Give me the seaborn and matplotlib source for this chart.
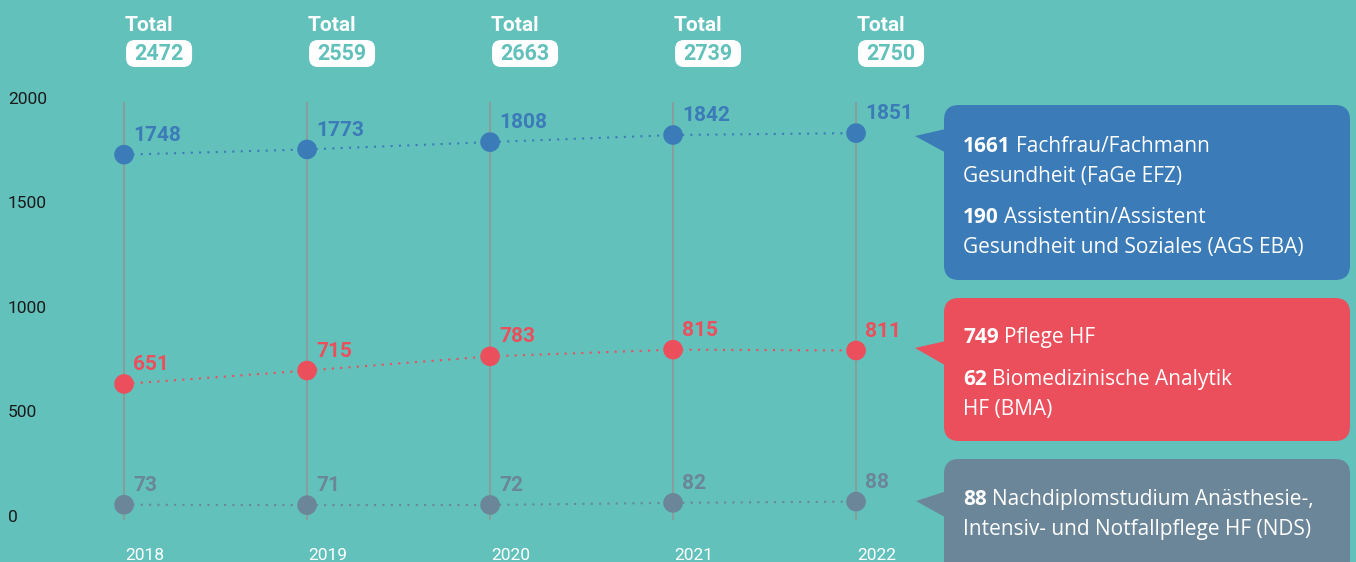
"""
Students per programme 2018-2022, timeline with callout boxes.
"""

import numpy as np
import pandas as pd
import matplotlib.pyplot as plt
import seaborn as sns
from matplotlib.patches import FancyBboxPatch, Polygon

sns.set_theme(style="white")
plt.rcParams["font.family"] = ["Roboto", "DejaVu Sans"]

# ---------------------------------------------------------------------------
# DATA
# ---------------------------------------------------------------------------
years = [2018, 2019, 2020, 2021, 2022]
totals = [2472, 2559, 2663, 2739, 2750]
fage_ags = [1748, 1773, 1808, 1842, 1851]
pflege_bma = [651, 715, 783, 815, 811]
nds = [73, 71, 72, 82, 88]
series_names = ["FaGe/AGS", "HF", "NDS"]
y_ticks = [0, 500, 1000, 1500, 2000]

box_texts = [
    [("1661", "Fachfrau/Fachmann"), ("", "Gesundheit (FaGe EFZ)"),
     ("190", "Assistentin/Assistent"), ("", "Gesundheit und Soziales (AGS EBA)")],
    [("749", "Pflege HF"), ("62", "Biomedizinische Analytik"), ("", "HF (BMA)")],
    [("88", "Nachdiplomstudium Anästhesie-,"),
     ("", "Intensiv- und Notfallpflege HF (NDS)")],
]

COLORS = {
    "bg": "#63c1bc",
    "FaGe/AGS": "#3b7bb8",
    "HF": "#eb4f5c",
    "NDS": "#6b8699",
    "grid": "#8e9a9a",
}
BOX_FONT = ["Open Sans", "DejaVu Sans"]
BOX_SIZE = 15

df = pd.DataFrame({
    "year": years * 3,
    "value": fage_ags + pflege_bma + nds,
    "series": np.repeat(series_names, len(years)),
})

W, H = 1356, 562
fig = plt.figure(figsize=(W / 100, H / 100), dpi=100)
fig.patch.set_facecolor(COLORS["bg"])

ax = fig.add_axes([0, 0, 1, 1])
ax.set_facecolor(COLORS["bg"])
ax.set_xlim(2017.322, 2024.732)
ax.set_ylim(-201, 2488)
ax.set_axis_off()

palette = {s: COLORS[s] for s in series_names}

# vertical year lines
ax.vlines(years, 0, 2000, color=COLORS["grid"], lw=1.3, zorder=1)

# dotted connectors + markers
for s in series_names:
    sub = df[df["series"] == s]
    ax.plot(sub["year"], sub["value"], color=COLORS[s], lw=1.5,
            linestyle=(0, (1, 3)), zorder=2)
sns.scatterplot(data=df, x="year", y="value", hue="series", palette=palette,
                s=200, linewidth=0, legend=False, ax=ax, zorder=3)

# value labels
for _, r in df.iterrows():
    ax.annotate(f"{r['value']}", xy=(r["year"], r["value"]),
                xytext=(6.5, 10), textcoords="offset points",
                ha="left", va="baseline", fontsize=15, fontweight="bold",
                color=COLORS[r["series"]], zorder=4)

# y labels
for t in y_ticks:
    ax.annotate(f"{t}", xy=(8, t), xycoords=("figure pixels", "data"),
                xytext=(0, 2), textcoords="offset points",
                ha="left", va="center", fontsize=12.5, color="#1a1a1a")

# year labels
for y in years:
    ax.annotate(f"{y}", xy=(y, 2), xycoords=("data", "figure pixels"),
                xytext=(1, 0), textcoords="offset points",
                ha="left", va="baseline", fontsize=12.5, color="white")

# overlay in image pixels (y downwards)
ov = fig.add_axes([0, 0, 1, 1])
ov.set_xlim(0, W)
ov.set_ylim(H, 0)
ov.set_axis_off()
ov.patch.set_alpha(0)

# totals
for y, tot in zip(years, totals):
    px = ax.transData.transform((y, 0))[0]
    ov.text(px + 1, 31, "Total", ha="left", va="baseline", fontsize=15,
            fontweight="bold", color="white")
    ov.add_patch(FancyBboxPatch((px + 2, 40), 66, 27,
                                boxstyle="round,pad=0,rounding_size=9",
                                fc="white", ec="none"))
    ov.text(px + 35, 54, f"{tot}", ha="center", va="center", fontsize=15.5,
            fontweight="bold", color=COLORS["bg"])

# callout boxes
boxes = [
    ("FaGe/AGS", 105, 280, (915, 136), (128, 155), [152, 182, 223, 253]),
    ("HF", 298, 441, (915, 348), (340, 368), [343, 385, 415]),
    ("NDS", 459, 575, (916, 501), (490, 520), [505, 535]),
]
for (s, top, bot, tip, base, baselines), lines in zip(boxes, box_texts):
    c = COLORS[s]
    ov.add_patch(FancyBboxPatch((944, top), 406, bot - top,
                                boxstyle="round,pad=0,rounding_size=15",
                                fc=c, ec="none"))
    ov.add_patch(Polygon([tip, (950, base[0]), (950, base[1])],
                         closed=True, fc=c, ec="none"))
    for (bold, rest), bl in zip(lines, baselines):
        if bold:
            t = ov.text(963, bl, bold, ha="left", va="baseline",
                        fontsize=BOX_SIZE, fontweight="bold", color="white",
                        family=BOX_FONT)
            ov.annotate(rest, xy=(1, 0), xycoords=t, xytext=(3.5, 0),
                        textcoords="offset points", ha="left", va="bottom",
                        fontsize=BOX_SIZE, color="white", family=BOX_FONT)
        else:
            ov.text(963, bl, rest, ha="left", va="baseline",
                    fontsize=BOX_SIZE, color="white", family=BOX_FONT)

fig.savefig("out.png", dpi=100, facecolor=fig.get_facecolor())
